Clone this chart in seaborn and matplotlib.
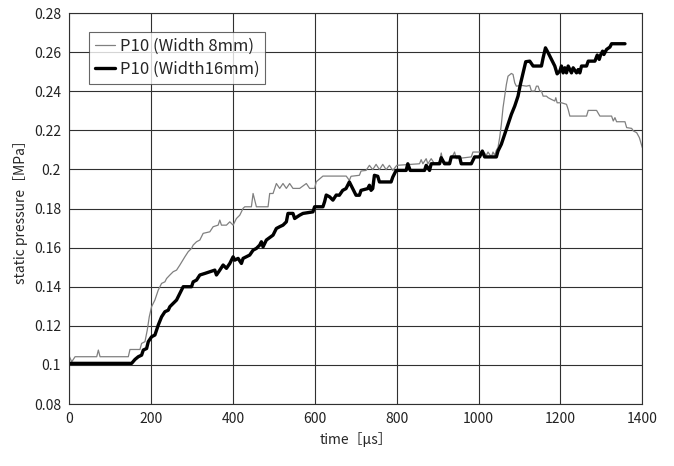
import numpy as np
import pandas as pd
import matplotlib
matplotlib.use("Agg")
import matplotlib.pyplot as plt
import seaborn as sns
from matplotlib.ticker import FuncFormatter, MultipleLocator

# P10 (Width 8mm) - thin gray trace
t_w8 = [0, 5.7, 13.8, 66.7, 70.7, 74.8, 143.9, 148, 172.4, 176.4, 184.6, 190.2, 195.1,
        200.8, 208.9, 217.1, 225.2, 233.3, 237.4, 245.5, 253.7, 261.8, 269.9, 282.1,
        290.2, 298.4, 302.4, 310.6, 318.7, 326.8, 343.1, 351.2, 363.4, 367.5, 371.5,
        383.7, 391.9, 400, 408.1, 416.3, 424.4, 428.5, 444.7, 448.8, 456.9, 485.4,
        489.4, 497.6, 505.7, 513.8, 521.9, 530.1, 538.2, 546.3, 562.6, 578.9, 587,
        599.2, 603.2, 619.5, 676.4, 684.1, 688.2, 708.6, 712.7, 724.9, 733.1, 741.2,
        749.4, 757.6, 765.7, 773.9, 782, 790.2, 800, 855.5, 859.6, 863.7, 871.8,
        875.9, 884.1, 892.2, 904.5, 908.6, 912.7, 929, 941.2, 945.3, 982, 986.1,
        1002.4, 1010.6, 1018.8, 1022.9, 1031, 1035.1, 1039.2, 1043.3, 1047.3, 1051.4,
        1055.5, 1059.6, 1063.7, 1067.8, 1071.8, 1080, 1084.1, 1088.2, 1092.2, 1104.5,
        1116.7, 1124.9, 1129, 1137.1, 1141.2, 1145.3, 1149.4, 1153.5, 1157.6, 1165.7,
        1169.8, 1178, 1186.1, 1188.6, 1191.8, 1202.4, 1214.7, 1218.8, 1222.9, 1263.7,
        1267.8, 1288.2, 1296.3, 1324.9, 1329, 1333.1, 1337.1, 1357.6, 1361.7, 1373.9,
        1378, 1386.2, 1392.7, 1400]
p_w8 = [0.1042, 0.1016, 0.1042, 0.1042, 0.1076, 0.1042, 0.1042, 0.1079, 0.1079, 0.111,
        0.1119, 0.1178, 0.1246, 0.1298, 0.1332, 0.1383, 0.1417, 0.1425, 0.1442, 0.146,
        0.1477, 0.1485, 0.1511, 0.1553, 0.1579, 0.1596, 0.1613, 0.163, 0.1639, 0.1673,
        0.1681, 0.1707, 0.1715, 0.1741, 0.1715, 0.1715, 0.1732, 0.1715, 0.1749, 0.1766,
        0.1801, 0.1809, 0.1809, 0.1877, 0.1809, 0.1809, 0.1877, 0.1877, 0.1928, 0.1903,
        0.1928, 0.1903, 0.1928, 0.1903, 0.1903, 0.1928, 0.1903, 0.1903, 0.1937, 0.1966,
        0.1966, 0.1944, 0.1965, 0.197, 0.1992, 0.1995, 0.2021, 0.1999, 0.2026, 0.1999,
        0.2026, 0.1999, 0.2021, 0.1995, 0.2021, 0.2029, 0.205, 0.2029, 0.2055, 0.2029,
        0.2055, 0.2029, 0.2038, 0.2084, 0.2038, 0.2038, 0.2089, 0.2055, 0.2064, 0.2089,
        0.2089, 0.2094, 0.2072, 0.2089, 0.2064, 0.2089, 0.2072, 0.2098, 0.2112, 0.2163,
        0.2231, 0.2316, 0.2375, 0.2435, 0.2477, 0.2491, 0.2486, 0.2443, 0.2426, 0.243,
        0.2426, 0.243, 0.2401, 0.2401, 0.2426, 0.2426, 0.2401, 0.2401, 0.2375, 0.2375,
        0.2367, 0.2358, 0.235, 0.2367, 0.2341, 0.2341, 0.2333, 0.2307, 0.2273, 0.2273,
        0.2302, 0.2302, 0.2273, 0.2273, 0.2248, 0.2265, 0.2244, 0.2244, 0.2214, 0.221,
        0.2197, 0.2188, 0.2163, 0.2112]

# P10 (Width16mm) - thick black trace
t_w16 = [0, 152, 160.2, 168.3, 176.4, 180.5, 188.6, 192.7, 200.8, 208.9, 213, 217.1,
         225.2, 233.3, 241.5, 245.5, 253.7, 261.8, 269.9, 278, 298.4, 302.4, 310.6,
         318.7, 330.9, 355.3, 359.3, 367.5, 375.6, 383.7, 391.9, 400, 404.1, 412.2,
         420.3, 424.4, 440.6, 448.8, 456.9, 465, 469.1, 473.2, 481.3, 497.6, 505.7,
         513.8, 521.9, 530.1, 534.1, 546.3, 550.4, 562.6, 570.7, 595.1, 599.2, 619.5,
         623.6, 627.6, 635.8, 643.9, 652, 659.6, 667.8, 675.9, 684.1, 692.2, 700.4,
         708.6, 712.7, 729, 733.1, 737.1, 741.2, 745.3, 753.5, 757.6, 786.1, 790.2,
         798.4, 822.9, 826.9, 832.7, 867.8, 871.8, 880, 884.1, 904.5, 908.6, 916.7,
         929, 933.1, 953.5, 957.5, 982, 990.2, 1002.4, 1009, 1014.7, 1043.3, 1047.3,
         1055.5, 1063.7, 1071.8, 1080, 1088.2, 1096.3, 1102, 1108.6, 1115.1, 1124.9,
         1133.1, 1153.5, 1157.6, 1163.3, 1169.8, 1178, 1186.1, 1191.8, 1198.4, 1202.4,
         1206.5, 1210.6, 1214.7, 1218.8, 1226.9, 1231, 1239.2, 1243.3, 1247.3, 1251.4,
         1263.7, 1267.8, 1284.1, 1289.8, 1294.7, 1298, 1302.9, 1306.1, 1312.7, 1320.8,
         1324.9, 1357.6]
p_w16 = [0.1008, 0.1008, 0.1028, 0.1042, 0.105, 0.1076, 0.1084, 0.1119, 0.1144, 0.1153,
         0.1178, 0.1204, 0.1246, 0.1272, 0.128, 0.1298, 0.1315, 0.1332, 0.1366, 0.14,
         0.14, 0.1425, 0.1434, 0.146, 0.1468, 0.1485, 0.146, 0.1485, 0.1511, 0.1494,
         0.1519, 0.1553, 0.1536, 0.1545, 0.1519, 0.1545, 0.1562, 0.1587, 0.1596, 0.1613,
         0.163, 0.1604, 0.1639, 0.1664, 0.1698, 0.1707, 0.1715, 0.1732, 0.1775, 0.1775,
         0.1749, 0.1766, 0.1775, 0.1783, 0.1809, 0.1809, 0.1835, 0.1869, 0.186, 0.1843,
         0.1869, 0.1868, 0.1893, 0.1902, 0.1936, 0.1902, 0.1868, 0.1868, 0.1893, 0.1902,
         0.1919, 0.1893, 0.1902, 0.197, 0.1965, 0.1936, 0.1936, 0.1961, 0.1995, 0.1995,
         0.2029, 0.1995, 0.1995, 0.2021, 0.1995, 0.2029, 0.2029, 0.206, 0.2029, 0.2029,
         0.2064, 0.2064, 0.2029, 0.2029, 0.2064, 0.2064, 0.2094, 0.2064, 0.2064, 0.2094,
         0.2129, 0.218, 0.2231, 0.2282, 0.2324, 0.2375, 0.2435, 0.2494, 0.2551, 0.2554,
         0.2529, 0.2529, 0.2571, 0.2622, 0.2597, 0.2563, 0.2529, 0.2489, 0.2503, 0.2529,
         0.2494, 0.252, 0.2494, 0.2529, 0.2494, 0.252, 0.2494, 0.2511, 0.2494, 0.2529,
         0.2529, 0.2554, 0.2554, 0.2585, 0.2563, 0.2585, 0.2605, 0.2588, 0.2614, 0.2626,
         0.2643, 0.2643]

sns.set_style("white")
plt.rcParams['font.family'] = ['Noto Sans CJK JP', 'DejaVu Sans']

df8 = pd.DataFrame({'time': t_w8, 'p': p_w8})
df16 = pd.DataFrame({'time': t_w16, 'p': p_w16})

fig = plt.figure(figsize=(6.74, 4.66), dpi=100)
ax = fig.add_axes([0.103, 0.133, 0.850, 0.839])

sns.lineplot(data=df8, x='time', y='p', sort=False, estimator=None, ax=ax,
             color='#808080', linewidth=0.9, label='P10 (Width 8mm)')
sns.lineplot(data=df16, x='time', y='p', sort=False, estimator=None, ax=ax,
             color='black', linewidth=2.4, label='P10 (Width16mm)')

ax.set_xlim(0, 1400)
ax.set_ylim(0.08, 0.28)
ax.xaxis.set_major_locator(MultipleLocator(200))
ax.yaxis.set_major_locator(MultipleLocator(0.02))
ax.yaxis.set_major_formatter(FuncFormatter(lambda v, _: '%g' % round(v, 2)))
ax.grid(True, color='#303030', linewidth=0.8)
ax.tick_params(length=0, labelsize=10, pad=6, colors='#222222')
for s in ax.spines.values():
    s.set_color('#303030')
    s.set_linewidth(0.8)

ax.set_xlabel('time［μs］', fontsize=10)
ax.set_ylabel('static pressure［MPa］', fontsize=10)

leg = ax.legend(loc='upper left', bbox_to_anchor=(0.034, 0.951), frameon=True,
                fancybox=False, handlelength=1.2, handletextpad=0.3,
                borderpad=0.35, labelspacing=0.35, fontsize=12, borderaxespad=0)
leg.get_frame().set_edgecolor('#404040')
leg.get_frame().set_linewidth(0.8)

fig.savefig('out.png', dpi=100)
